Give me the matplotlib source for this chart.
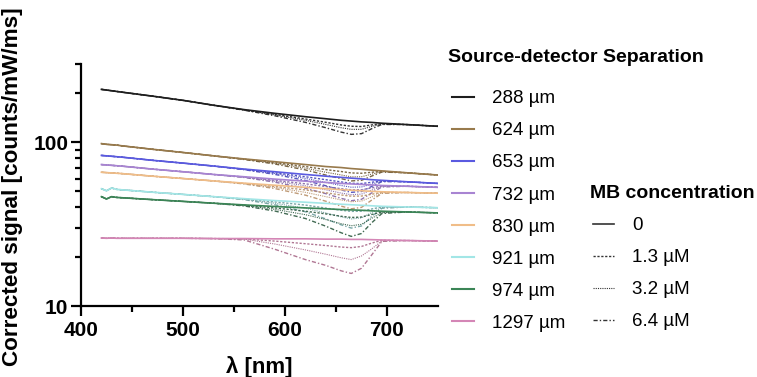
#!/usr/bin/env python3

import matplotlib
matplotlib.use("Agg")
import matplotlib.pyplot as plt
from matplotlib.lines import Line2D
from matplotlib.ticker import LogLocator, NullFormatter

plt.rcParams['font.family'] = ['Liberation Sans', 'DejaVu Sans']

# wavelength grid [nm]
wl = [420, 425, 430, 435, 440, 470, 500, 530, 560, 590, 620, 640, 655, 665, 675, 685, 695, 720, 750]
# the MB dip only changes the 560-695 nm part (wl[8:17])
dip_start, dip_end = 8, 17

sep_labels = ['288 µm', '624 µm', '653 µm', '732 µm', '830 µm', '921 µm', '974 µm', '1297 µm']
sep_colors = ['#1e1e1e', '#987a4c', '#5a5ae0', '#a884d2', '#f0bd88', '#a2e6e6', '#3b8556', '#d486b6']
dip_colors = ['#1e1e1e', '#6b5530', '#4444b8', '#8466a4', '#b89068', '#6c9e9e', '#2d5a40', '#a86888']
conc_labels = ['0', '1.3 µM', '3.2 µM', '6.4 µM']

# 0 uM curves
base_288 = [210, 208, 206, 204, 202, 191, 180, 168, 158, 150, 143, 139, 136, 134.5, 133, 132, 130.5, 128, 125]
base_624 = [98, 97, 96.5, 96, 95, 90.5, 86.5, 82.5, 79, 76, 73, 71, 70, 69, 68.3, 67.5, 66.8, 65, 63]
base_653 = [83, 82.5, 82, 81.5, 81, 77.5, 74.5, 71.5, 68.5, 66, 63.5, 62, 61, 60.3, 59.7, 59, 58.5, 57.3, 56]
base_732 = [73, 72.6, 72.2, 71.8, 71.4, 68.5, 66, 63.5, 61.5, 59.5, 57.8, 56.8, 56, 55.6, 55.2, 54.8, 54.4, 53.8, 53]
base_830 = [65.5, 65.2, 64.9, 64.6, 64.3, 62, 60, 58, 56.2, 54.6, 53, 52, 51.3, 50.9, 50.5, 50.1, 49.8, 49.3, 48.8]
base_921 = [52, 50.5, 52.5, 51.5, 51.2, 49.5, 48, 46.5, 45.2, 44, 43, 42.3, 41.8, 41.5, 41.2, 40.9, 40.6, 40.2, 39.8]
base_974 = [46.5, 45, 46.5, 46, 45.8, 44.6, 43.5, 42.4, 41.4, 40.5, 39.7, 39.2, 38.8, 38.6, 38.4, 38.1, 37.9, 37.5, 37]
base_1297 = [26, 25.9, 26, 25.9, 25.9, 25.9, 25.9, 25.8, 25.8, 25.7, 25.7, 25.6, 25.6, 25.5, 25.5, 25.4, 25.3, 25.1, 24.9]

# 1.3, 3.2, 6.4 uM, values at wl[8:17]
dip_288 = [[157.4, 147.9, 138.5, 132.2, 127.4, 125.1, 124.6, 127.4, 129.6],
           [157.1, 146.7, 135.9, 128.3, 122.5, 119.7, 119.8, 124.7, 129.1],
           [156.7, 144.9, 132.1, 122.5, 115.2, 111.6, 112.7, 120.8, 128.3]]
dip_624 = [[78.8, 75.1, 71.0, 68.0, 66.2, 64.9, 64.6, 65.5, 66.4],
           [78.6, 74.3, 69.4, 65.5, 63.1, 61.4, 61.5, 63.8, 66.1],
           [78.4, 73.6, 67.7, 63.0, 59.9, 58.0, 58.5, 62.1, 65.7]]
dip_653 = [[68.3, 65.1, 61.5, 59.0, 57.2, 56.1, 55.9, 56.9, 58.1],
           [68.1, 64.4, 60.1, 56.8, 54.4, 53.1, 53.3, 55.5, 57.8],
           [67.9, 63.6, 58.4, 54.2, 51.1, 49.4, 50.0, 53.7, 57.4]]
dip_732 = [[61.3, 58.5, 55.7, 53.6, 52.0, 51.2, 51.2, 52.6, 54.0],
           [61.1, 57.8, 54.2, 51.2, 48.9, 47.8, 48.2, 51.0, 53.6],
           [60.9, 57.0, 52.3, 48.5, 45.4, 43.9, 44.8, 49.0, 53.3]]
dip_830 = [[56.0, 53.7, 51.1, 49.1, 47.6, 46.8, 46.9, 48.1, 49.4],
           [55.8, 53.0, 49.4, 46.5, 44.4, 43.3, 43.7, 46.3, 49.1],
           [55.6, 52.1, 47.5, 43.6, 40.7, 39.2, 40.0, 44.3, 48.7]]
dip_921 = [[45.0, 43.2, 41.3, 39.6, 38.4, 37.8, 37.9, 39.1, 40.2],
           [44.8, 42.4, 39.5, 37.0, 35.0, 34.0, 34.5, 37.2, 39.9],
           [44.6, 41.5, 37.6, 34.0, 31.3, 29.9, 30.8, 35.2, 39.5]]
dip_974 = [[41.2, 39.7, 37.9, 36.5, 35.3, 34.7, 34.9, 36.2, 37.5],
           [41.0, 38.9, 36.1, 33.7, 31.8, 30.9, 31.5, 34.3, 37.1],
           [40.8, 38.0, 34.2, 30.7, 28.0, 26.6, 27.7, 32.2, 36.7]]
dip_1297 = [[25.7, 24.9, 24.0, 23.4, 22.9, 22.7, 23.1, 24.2, 25.2],
            [25.6, 23.9, 22.0, 20.7, 19.7, 19.2, 20.2, 22.3, 25.0],
            [25.3, 22.2, 19.2, 17.7, 16.4, 15.8, 17.0, 20.5, 24.8]]

bases = [base_288, base_624, base_653, base_732, base_830, base_921, base_974, base_1297]
dips = [dip_288, dip_624, dip_653, dip_732, dip_830, dip_921, dip_974, dip_1297]

dip_styles = [(0, (1.6, 1.2)), (0, (1, 1)), (0, (3, 1.5, 1, 1.5))]
dip_widths = [1.0, 0.8, 1.0]

fig = plt.figure(figsize=(7.57, 3.77), dpi=100)
ax = fig.add_axes([81 / 757, 71 / 377, 357 / 757, 242 / 377])

for base, dip, col, dcol in zip(bases, dips, sep_colors, dip_colors):
    for k in range(3):
        y = base[:dip_start] + dip[k] + base[dip_end:]
        ax.plot(wl, y, color=dcol, ls=dip_styles[k], lw=dip_widths[k], alpha=0.9)
    ax.plot(wl, base, color=col, lw=1.2)

ax.set_yscale('log')
ax.set_xlim(400, 750)
ax.set_ylim(10, 300)
ax.set_xticks([400, 500, 600, 700])
ax.set_xticks([450, 550, 650], minor=True)
ax.set_yticks([10, 100])
ax.set_yticklabels(['10', '100'])
ax.yaxis.set_minor_locator(LogLocator(subs=range(2, 10)))
ax.yaxis.set_minor_formatter(NullFormatter())

for s in ['top', 'right']:
    ax.spines[s].set_visible(False)
for s in ['left', 'bottom']:
    ax.spines[s].set_linewidth(1.6)
ax.tick_params(which='major', length=7, width=1.6, labelsize=15)
ax.tick_params(which='minor', length=4, width=1.6)
ax.tick_params(axis='x', pad=4)
ax.tick_params(axis='y', pad=2)
for lab in ax.get_xticklabels() + ax.get_yticklabels():
    lab.set_fontweight('bold')

ax.set_xlabel('λ [nm]', fontsize=16, fontweight='bold', labelpad=11)
fig.text(13 / 757, 1 - 187 / 377, 'Corrected signal [counts/mW/ms]', fontsize=16.2,
         fontweight='bold', rotation=90, ha='center', va='center')

# legends
fig.text(448 / 757, 1 - 58 / 377, 'Source-detector Separation', fontsize=14,
         fontweight='bold', va='center')
fig.text(590 / 757, 1 - 193 / 377, 'MB concentration', fontsize=14,
         fontweight='bold', va='center')

sep_handles = [Line2D([], [], color=c, lw=1.5) for c in sep_colors]
leg1 = fig.legend(sep_handles, sep_labels, loc='upper left',
                  bbox_to_anchor=(452 / 757, 1 - 90 / 377), frameon=False,
                  fontsize=13.5, handlelength=1.15, handletextpad=1.0,
                  labelspacing=0.8, borderpad=0, borderaxespad=0)

conc_handles = [Line2D([], [], color='#333333', lw=1.2)] + \
    [Line2D([], [], color='#333333', ls=dip_styles[k], lw=dip_widths[k]) for k in range(3)]
leg2 = fig.legend(conc_handles, conc_labels, loc='upper left',
                  bbox_to_anchor=(593 / 757, 1 - 217 / 377), frameon=False,
                  fontsize=13.5, handlelength=1.1, handletextpad=1.0,
                  labelspacing=0.8, borderpad=0, borderaxespad=0)

fig.savefig('out.png', dpi=100)
plt.close(fig)
